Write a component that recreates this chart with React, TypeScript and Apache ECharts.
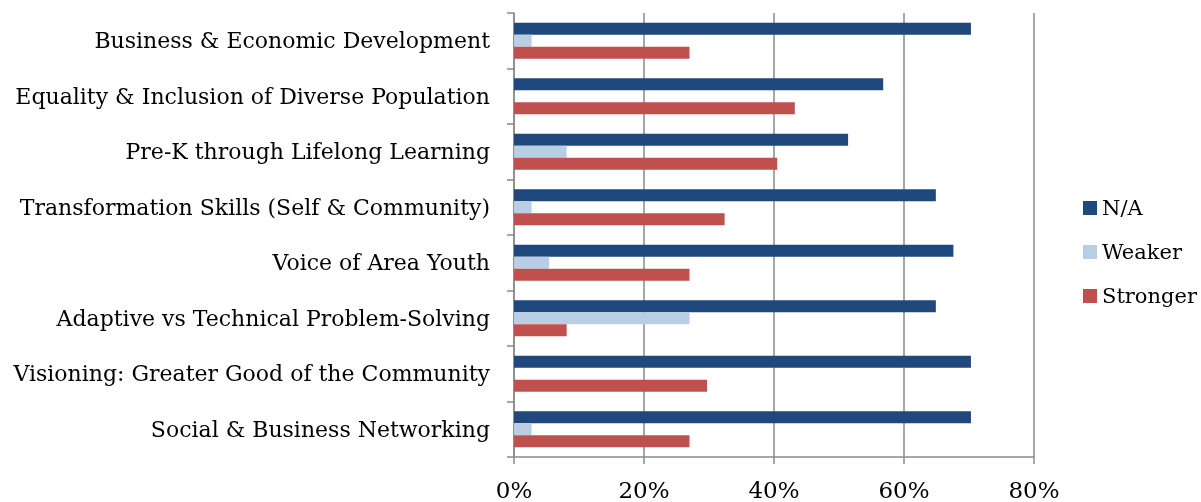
import React, { useEffect, useRef } from "react";
import * as echarts from "echarts";

const categories = [
  "Business & Economic Development",
  "Equality & Inclusion of Diverse Population",
  "Pre-K through Lifelong Learning",
  "Transformation Skills (Self & Community)",
  "Voice of Area Youth",
  "Adaptive vs Technical Problem-Solving",
  "Visioning: Greater Good of the Community",
  "Social & Business Networking",
];
const naValues = [70.3, 56.8, 51.4, 64.9, 67.6, 64.9, 70.3, 70.3];
const weakerValues = [2.7, 0, 8.1, 2.7, 5.4, 27.0, 0, 2.7];
const strongerValues = [27.0, 43.2, 40.5, 32.4, 27.0, 8.1, 29.7, 27.0];
const xTicks = [0, 20, 40, 60, 80];

const FONT = "DejaVu Serif";
const AXIS_GRAY = "#8a8a8a";

export default function App() {
  const ref = useRef<HTMLDivElement>(null);
  useEffect(() => {
    const chart = echarts.init(ref.current!, null, { renderer: "svg" });
    const barStyle = (color: string) => ({
      type: "bar" as const,
      barGap: "0%",
      barCategoryGap: "35%",
      itemStyle: { color },
    });
    chart.setOption({
      animation: false,
      textStyle: { fontFamily: FONT },
      legend: {
        orient: "vertical",
        left: 1078,
        top: 192,
        itemWidth: 14,
        itemHeight: 14,
        itemGap: 22,
        icon: "rect",
        textStyle: { fontFamily: FONT, fontSize: 21, lineHeight: 22, color: "#000" },
        data: ["N/A", "Weaker", "Stronger"],
      },
      grid: { left: 514, right: 167, top: 13, bottom: 45, containLabel: false },
      xAxis: {
        type: "value",
        min: 0,
        max: 80,
        interval: 20,
        axisLine: { show: true, lineStyle: { color: AXIS_GRAY, width: 1.5 } },
        axisTick: { show: true, length: 7, lineStyle: { color: AXIS_GRAY, width: 1.5 } },
        splitLine: { show: true, lineStyle: { color: AXIS_GRAY, width: 1.5 } },
        axisLabel: {
          formatter: (v: number) => (xTicks.includes(v) ? v + "%" : ""),
          fontFamily: FONT,
          fontSize: 23,
          color: "#000",
          margin: 21,
        },
      },
      yAxis: {
        type: "category",
        inverse: true,
        data: categories,
        axisLine: { show: true, lineStyle: { color: AXIS_GRAY, width: 1.5 } },
        axisTick: { show: true, length: 7, lineStyle: { color: AXIS_GRAY, width: 1.5 } },
        axisLabel: { fontFamily: FONT, fontSize: 22, color: "#000", margin: 24 },
      },
      series: [
        { ...barStyle("#1F497D"), name: "N/A", data: naValues },
        { ...barStyle("#B9CDE5"), name: "Weaker", data: weakerValues },
        { ...barStyle("#C0504D"), name: "Stronger", data: strongerValues },
      ],
    });
    return () => chart.dispose();
  }, []);
  return (
    <div
      ref={ref}
      style={{ position: "fixed", left: 0, top: 0, width: 1201, height: 502 }}
    />
  );
}
